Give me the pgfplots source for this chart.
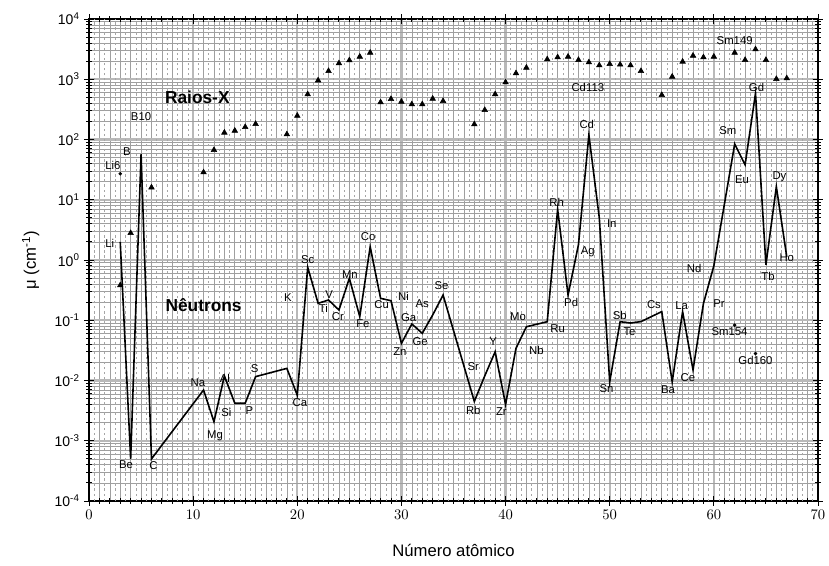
\documentclass[border=0pt]{standalone}
\usepackage{pgfplots}
\pgfplotsset{compat=1.18}
\usepackage{fontspec}
\setmainfont{Liberation Sans}
\newcommand{\lbl}{\fontsize{8.5}{9}\selectfont}
\begin{document}
\begin{tikzpicture}
\useasboundingbox (-66.75pt,-48pt) rectangle (555pt,375.75pt);
\begin{axis}[
  scale only axis,
  width=546.75pt, height=361.5pt,
  ymode=log,
  xmin=0, xmax=70, ymin=0.0001, ymax=10000,
  xtick={0,10,...,70},
  minor xtick={0,1,...,70},
  ytick={0.0001,0.001,0.01,0.1,1,10,100,1000,10000},
  yticklabels={10\textsuperscript{-4},10\textsuperscript{-3},10\textsuperscript{-2},10\textsuperscript{-1},10\textsuperscript{0},10\textsuperscript{1},10\textsuperscript{2},10\textsuperscript{3},10\textsuperscript{4}},
  minor ytick={0.0002,0.0003,0.0004,0.0005,0.0006,0.0007,0.0008,0.0009,
               0.002,0.003,0.004,0.005,0.006,0.007,0.008,0.009,
               0.02,0.03,0.04,0.05,0.06,0.07,0.08,0.09,
               0.2,0.3,0.4,0.5,0.6,0.7,0.8,0.9,
               2,3,4,5,6,7,8,9,
               20,30,40,50,60,70,80,90,
               200,300,400,500,600,700,800,900,
               2000,3000,4000,5000,6000,7000,8000,9000},
  grid=both,
  major grid style={gray!55, line width=1.8pt},
  minor grid style={gray!75, line width=0.45pt},
  extra x ticks={0.5,1.5,...,69.5},
  extra x tick labels={},
  extra x tick style={grid=major, major grid style={gray!70, dotted, line width=0.45pt}, major tick length=0pt},
  tick align=center,
  major tick length=7pt,
  minor tick length=4pt,
  every tick/.style={black, line width=0.7pt},
  axis line style={black, line width=0.8pt},
  tick label style={font=\fontsize{10.5}{12}\selectfont},
  xlabel={Número atômico},
  ylabel={μ (cm\textsuperscript{-1})},
  xlabel style={at={(axis description cs:0.5,-0.102)}, anchor=center, font=\fontsize{12.5}{14}\selectfont},
  ylabel style={at={(axis description cs:-0.08,0.5)}, anchor=center, font=\fontsize{12.5}{14}\selectfont},
  clip=false,
]
% Neutron attenuation coefficients
\addplot[black, line width=1.2pt] coordinates {
 (3,2.0) (4,0.0005) (5,57) (6,0.0005)
 (11,0.00695) (12,0.00207) (13,0.0119) (14,0.0042) (15,0.0042) (16,0.0116)
 (19,0.0159) (20,0.0057) (21,0.757) (22,0.191) (23,0.217) (24,0.148)
 (25,0.497) (26,0.115) (27,1.66) (28,0.231) (29,0.211) (30,0.0414)
 (31,0.0867) (32,0.0607) (33,0.122) (34,0.262) (37,0.0045) (38,0.0119)
 (39,0.030) (40,0.0040) (41,0.0342) (42,0.078) (44,0.0946) (45,6.94)
 (46,0.262) (47,1.8) (48,119) (49,5) (50,0.0095) (51,0.0946) (52,0.09)
 (53,0.095) (55,0.139) (56,0.0095) (57,0.139) (58,0.015) (59,0.19)
 (60,0.8) (62,84) (63,38) (64,585) (65,0.83) (66,16.5) (67,1.13)
};
% X-ray attenuation coefficients
\addplot[only marks, mark=triangle*, mark size=2.4pt, black] coordinates {
 (3,0.38) (4,2.8) (6,16) (11,28.5) (12,67) (13,130) (14,140) (15,161) (16,181)
 (19,122) (20,248) (21,563) (22,957) (23,1370) (24,1840) (25,2063) (26,2370)
 (27,2760) (28,414) (29,470) (30,424) (31,384) (32,384) (33,476) (34,435)
 (37,179) (38,309) (39,563) (40,889) (41,1256) (42,1556) (44,2143) (45,2313)
 (46,2370) (47,2090) (48,1910) (49,1702) (50,1790) (51,1750) (52,1702)
 (53,1370) (55,548) (56,1103) (57,1960) (58,2460) (59,2313) (60,2370)
 (62,2760) (63,2090) (64,3140) (65,2090) (66,1010) (67,1038)
};
% isotopes
\addplot[only marks, mark=*, mark size=1.1pt, black] coordinates {
 (3,27) (62,0.083) (64,0.028)
};
\node[font=\fontsize{13}{15}\selectfont\bfseries] at (axis cs:10.4,507) {Raios-X};
\node[font=\fontsize{13}{15}\selectfont\bfseries] at (axis cs:11.0,0.179) {Nêutrons};
\begin{scope}[every node/.style={font=\lbl, inner sep=0.5pt}]
\node at (axis cs:5.0,236) {B10};
\node at (axis cs:3.65,62) {B};
\node at (axis cs:2.3,37.8) {Li6};
\node at (axis cs:2.0,1.91) {Li};
\node at (axis cs:3.55,0.0004) {Be};
\node at (axis cs:6.2,0.00038) {C};
\node at (axis cs:10.45,0.0091) {Na};
\node at (axis cs:12.1,0.0012) {Mg};
\node at (axis cs:13.05,0.011) {Al};
\node at (axis cs:13.2,0.0030) {Si};
\node at (axis cs:15.4,0.0032) {P};
\node at (axis cs:15.9,0.0155) {S};
\node at (axis cs:20.25,0.0043) {Ca};
\node at (axis cs:19.1,0.234) {K};
\node at (axis cs:21.0,1.0) {Sc};
\node at (axis cs:22.5,0.158) {Ti};
\node at (axis cs:23.06,0.269) {V};
\node at (axis cs:23.9,0.115) {Cr};
\node at (axis cs:25.05,0.562) {Mn};
\node at (axis cs:26.3,0.089) {Fe};
\node at (axis cs:26.8,2.44) {Co};
\node at (axis cs:28.1,0.179) {Cu};
\node at (axis cs:30.2,0.251) {Ni};
\node at (axis cs:29.85,0.030) {Zn};
\node at (axis cs:30.7,0.112) {Ga};
\node at (axis cs:32.0,0.19) {As};
\node at (axis cs:31.8,0.044) {Ge};
\node at (axis cs:33.85,0.37) {Se};
\node at (axis cs:36.9,0.017) {Sr};
\node at (axis cs:36.9,0.0032) {Rb};
\node at (axis cs:38.8,0.044) {Y};
\node at (axis cs:39.6,0.003) {Zr};
\node at (axis cs:42.96,0.032) {Nb};
\node at (axis cs:41.2,0.115) {Mo};
\node at (axis cs:45.0,0.073) {Ru};
\node at (axis cs:44.9,8.9) {Rh};
\node at (axis cs:46.3,0.195) {Pd};
\node at (axis cs:47.9,1.37) {Ag};
\node at (axis cs:47.8,181) {Cd};
\node at (axis cs:47.9,735) {Cd113};
\node at (axis cs:50.2,4.06) {In};
\node at (axis cs:49.7,0.0074) {Sn};
\node at (axis cs:50.96,0.122) {Sb};
\node at (axis cs:51.9,0.0646) {Te};
\node at (axis cs:54.25,0.179) {Cs};
\node at (axis cs:56.9,0.172) {La};
\node at (axis cs:55.6,0.0071) {Ba};
\node at (axis cs:57.5,0.0113) {Ce};
\node at (axis cs:60.5,0.19) {Pr};
\node at (axis cs:58.1,0.728) {Nd};
\node at (axis cs:61.5,0.0646) {Sm154};
\node at (axis cs:64.0,0.0219) {Gd160};
\node at (axis cs:61.35,138) {Sm};
\node at (axis cs:62.7,21.4) {Eu};
\node at (axis cs:64.1,735) {Gd};
\node at (axis cs:65.2,0.528) {Tb};
\node at (axis cs:66.3,24.2) {Dy};
\node at (axis cs:67.0,1.11) {Ho};
\node at (axis cs:62.0,4436) {Sm149};
\end{scope}
\end{axis}
\end{tikzpicture}
\end{document}
